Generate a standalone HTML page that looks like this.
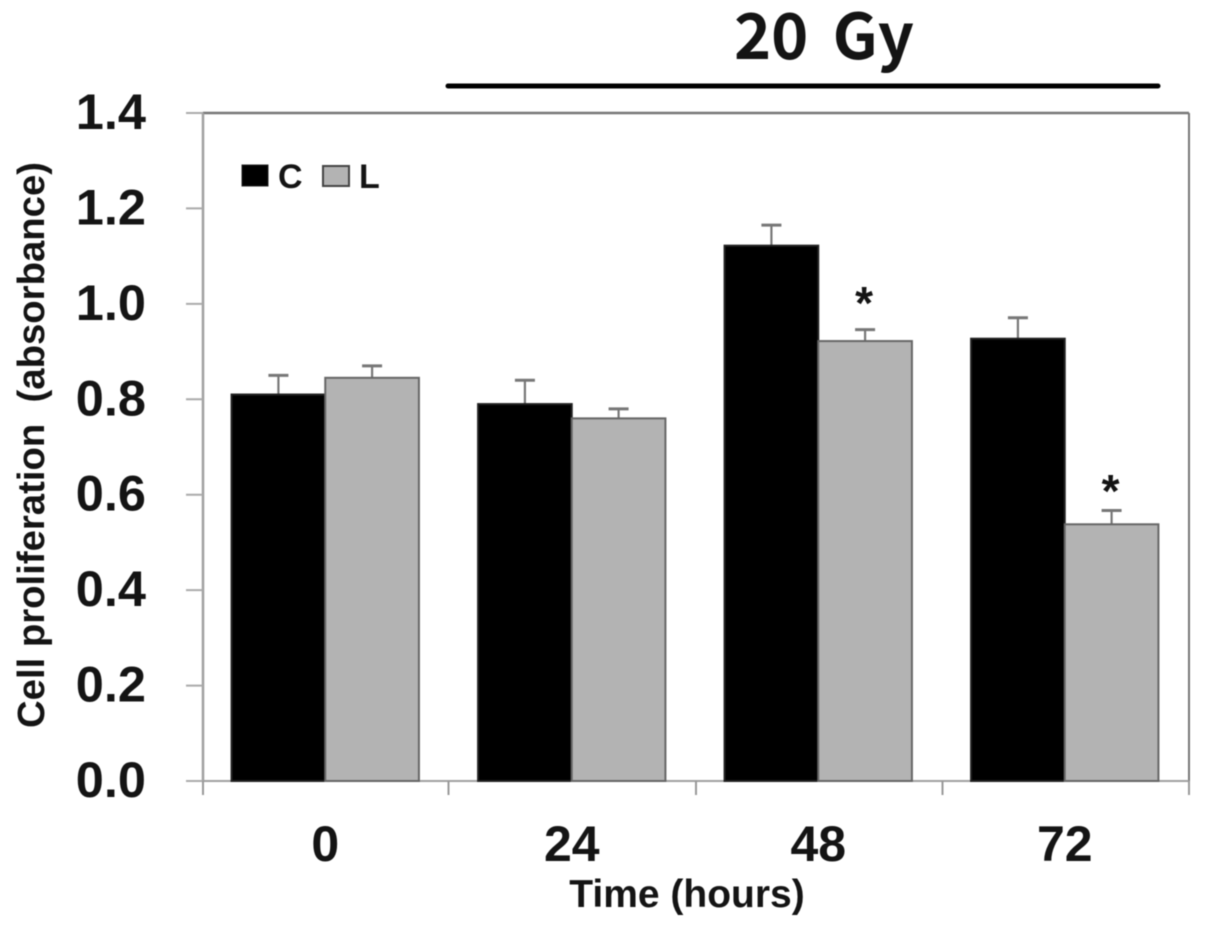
<!DOCTYPE html>
<html>
<head>
<meta charset="utf-8">
<style>
html,body{margin:0;padding:0;background:#fff;width:1205px;height:929px;overflow:hidden}
svg{display:block;filter:blur(0.5px)}
text{font-family:"Liberation Sans",Arial,sans-serif;font-weight:bold;fill:#141414}
.noto{font-family:"Noto Sans CJK KR","Liberation Sans",sans-serif;font-weight:700}
</style>
</head>
<body>
<svg id="chart" width="1205" height="929" viewBox="0 0 1205 929" xmlns="http://www.w3.org/2000/svg"></svg>
<script>
const categories = ["0", "24", "48", "72"];
const seriesC = [0.81, 0.79, 1.122, 0.927];
const seriesL = [0.845, 0.76, 0.922, 0.538];
const errC = [0.04, 0.05, 0.043, 0.044];
const errL = [0.025, 0.02, 0.024, 0.029];
const starHeightL = [null, null, 0.968, 0.574];
const yTicks = ["0.0", "0.2", "0.4", "0.6", "0.8", "1.0", "1.2", "1.4"];

const svg = document.getElementById('chart');
const NS = 'http://www.w3.org/2000/svg';
const plotL = 203, plotR = 1189, plotT = 113, plotB = 781;
const yMax = 1.4;
function yScale(v){ return plotB - (v / yMax) * (plotB - plotT); }
function groupLeft(i){ return plotL + i * (plotR - plotL) / categories.length; }
const groupW = (plotR - plotL) / categories.length;
const barW = groupW * 0.38;
function barX(i, s){ return groupLeft(i) + groupW * 0.12 + s * barW - 1; }
function add(tag, attrs, text){
  const el = document.createElementNS(NS, tag);
  for (const k in attrs) el.setAttribute(k, attrs[k]);
  if (text !== undefined) el.textContent = text;
  svg.appendChild(el);
  return el;
}
function line(x1, y1, x2, y2, stroke, w){
  return add('line', {x1: x1, y1: y1, x2: x2, y2: y2, stroke: stroke, 'stroke-width': w});
}

let el;
el = add('rect', {x: plotL, y: plotT, width: plotR - plotL, height: plotB - plotT, fill: '#fff', stroke: 'none'});


el = line(plotL, plotT, plotR, plotT, '#777', 2.5);


el = line(plotR, plotT, plotR, plotB, '#777', 2);


el = line(plotL, plotT, plotL, plotB, '#a0a0a0', 2.5);


el = line(plotL, plotB, plotR, plotB, '#a0a0a0', 2);



yTicks.forEach(function(t){
  const y = yScale(parseFloat(t));
  const tick = line(plotL - 17, y, plotL, y, '#aaa', 2);
  
  
  const lab = add('text', {x: 146, y: y + 16, 'text-anchor': 'end', 'font-size': 50.5}, t);
  
  
});

for (let i = 0; i <= categories.length; i++) {
  const x = plotL + i * groupW;
  const tick = line(x - (i === 1 ? 1 : 0), plotB, x - (i === 1 ? 1 : 0), plotB + 14, '#999', 2);
  
  
}

function drawSeries(values, errs, s, fill, name){
  values.forEach(function(v, i){
    const x = barX(i, s), y = yScale(v);
    const cx = x + barW / 2;
    const top = yScale(v + errs[i]);
    const e1 = line(cx, y, cx, top, '#777', 2.2);
    
    
    const e2 = line(cx - 10, top, cx + 10, top, '#777', 3);
    
    
    const b = add('rect', {x: x, y: y, width: barW, height: plotB - y, fill: fill, stroke: s === 0 ? '#222' : '#666', 'stroke-width': 2});
    
    
  });
}
drawSeries(seriesC, errC, 0, '#000', 'c');
drawSeries(seriesL, errL, 1, '#b3b3b3', 'l');

starHeightL.forEach(function(h, i){
  if (h === null) return;
  const st = add('text', {x: barX(i, 1) + barW / 2 - 1, y: yScale(h), 'text-anchor': 'middle', 'font-size': 46}, '*');
  
  
});

categories.forEach(function(c, i){
  const lab = add('text', {x: groupLeft(i) + groupW / 2 - 1, y: 861, 'text-anchor': 'middle', 'font-size': 50}, c);
  
  
});

el = add('text', {x: 687, y: 907, 'text-anchor': 'middle', 'font-size': 39}, 'Time (hours)');



el = add('text', {x: 0, y: 0, 'text-anchor': 'middle', 'font-size': 38.3, style: 'white-space:pre', transform: 'translate(44,445) rotate(-90)'}, 'Cell proliferation  (absorbance)');



el = add('text', {x: 824, y: 59, 'text-anchor': 'middle', 'font-size': 63, 'word-spacing': 10, class: 'noto'}, '20 Gy');



el = line(448, 86, 1158, 86, '#000', 5);
el.setAttribute('stroke-linecap', 'round');



el = add('rect', {x: 242, y: 165, width: 26, height: 21, fill: '#000', stroke: '#222', 'stroke-width': 1});


el = add('text', {x: 278, y: 188, 'font-size': 34}, 'C');


el = add('rect', {x: 323, y: 166, width: 26, height: 20, fill: '#b3b3b3', stroke: '#444', 'stroke-width': 2});


el = add('text', {x: 359, y: 188, 'font-size': 34}, 'L');


</script>
</body>
</html>
